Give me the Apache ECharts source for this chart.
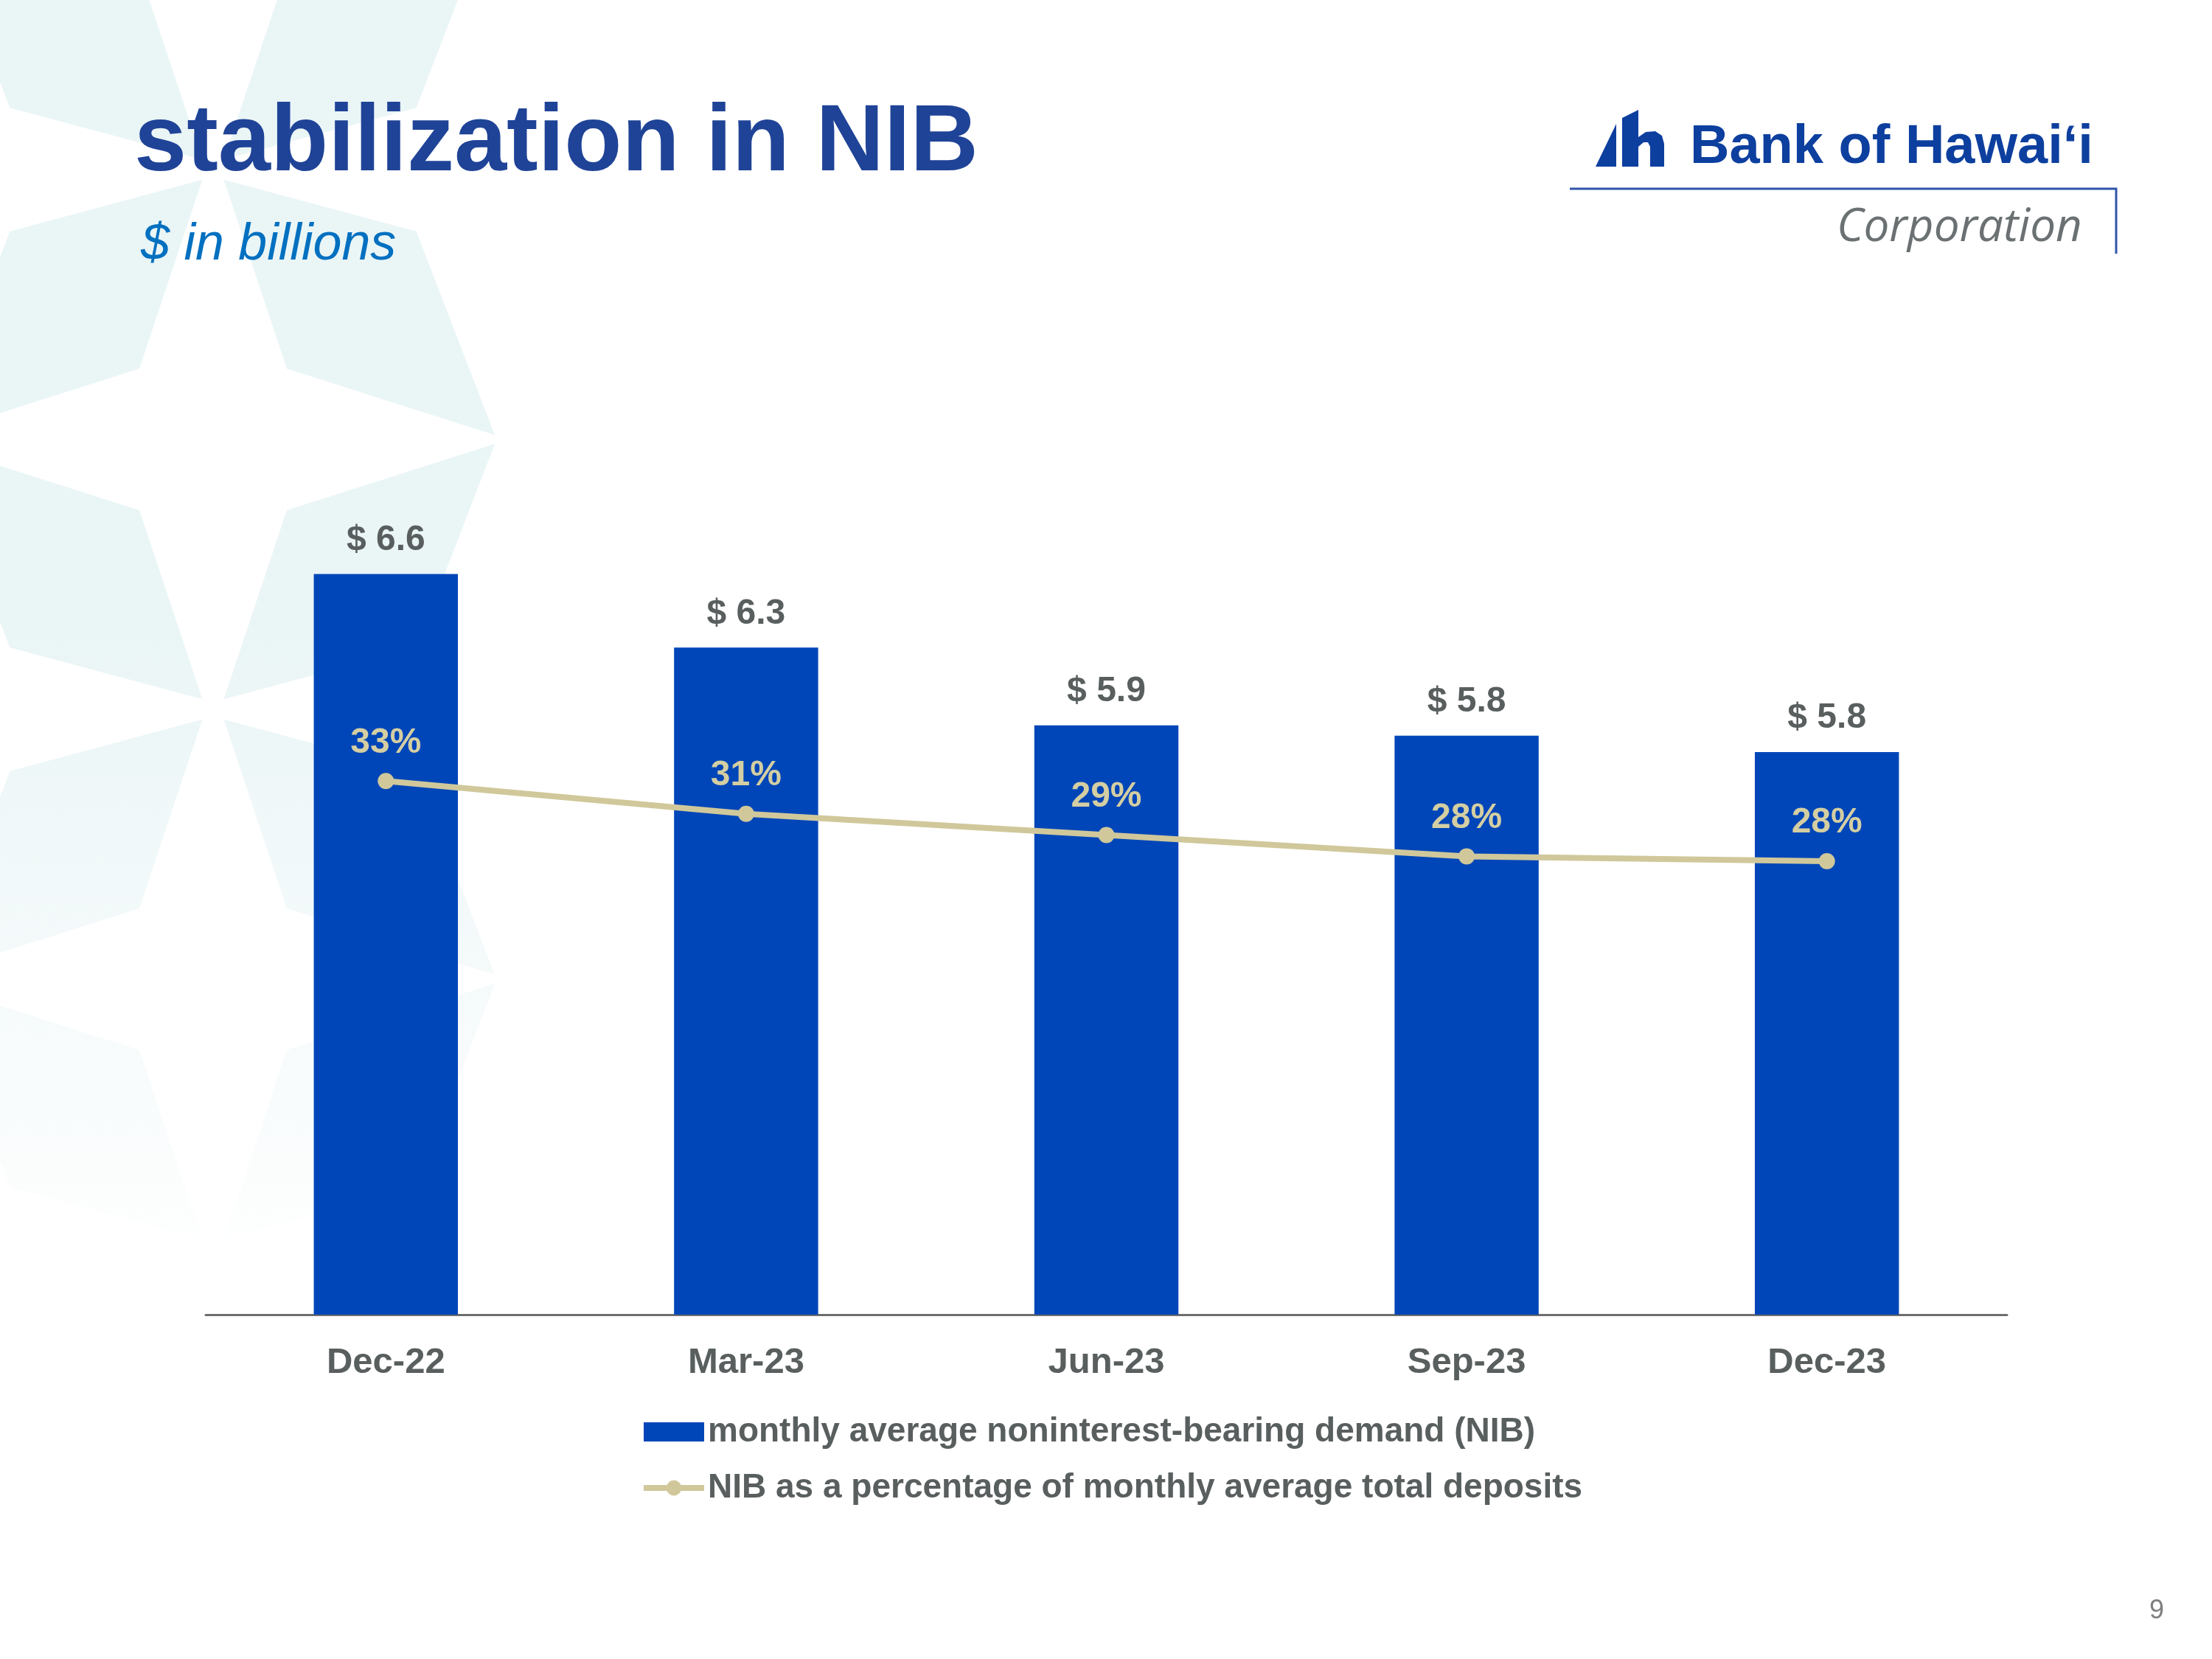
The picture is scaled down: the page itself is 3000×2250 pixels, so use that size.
<!DOCTYPE html>
<html><head><meta charset="utf-8">
<script src="https://cdn.jsdelivr.net/npm/echarts@6/dist/echarts.min.js"></script>
<style>html,body{margin:0;padding:0;background:#fff}#c{width:3000px;height:2250px}</style>
</head><body><div id="c"></div>
<script>
const categories = ['Dec-22', 'Mar-23', 'Jun-23', 'Sep-23', 'Dec-23'];
const nibBillions = [6.62, 6.26, 5.88, 5.83, 5.75];
const nibPctOfDeposits = [32.6, 30.6, 29.3, 28.0, 27.7];
const seriesNames = ['monthly average noninterest-bearing demand (NIB)', 'NIB as a percentage of monthly average total deposits'];
const titleText = 'stabilization in NIB';
const subtitleText = '$ in billions';

const FONT = '"Liberation Sans", Arial, Helvetica, sans-serif';
const GRAY = '#595E5E';
const BLUE = '#0046B8';
const TAN = '#D0C89B';

const chart = echarts.init(document.getElementById('c'), null, {renderer: 'canvas'});

const bgFill = new echarts.graphic.LinearGradient(0, 850, 0, 1750, [
  {offset: 0, color: '#EAF5F6'}, {offset: 1, color: '#FFFFFF'}], true);

function kite(cx, cy, angDeg) {
  const L = 525, d0 = 20, a = 258, w = 128;
  const t = angDeg * Math.PI / 180;
  const ux = Math.cos(t), uy = Math.sin(t), px = -uy, py = ux;
  const pt = (al, pe) => [cx + ux * al + px * pe, cy + uy * al + py * pe];
  return [pt(d0, 0), pt(a, w), pt(L, 0), pt(a, -w)];
}
const bgGraphics = [];
[[289, 230], [289, 962], [289, 1694]].forEach(c => {
  [43.3, -43.3, 180 - 43.3, 180 + 43.3].forEach(ang => {
    bgGraphics.push({type: 'polygon', silent: true, z: -10,
      shape: {points: kite(c[0], c[1], ang)}, style: {fill: bgFill}});
  });
});

const logoBlue = '#0D3F9F';
const graphics = bgGraphics.concat([
  {type: 'text', left: 182, top: 196 - 64, z: 5,
    style: {text: titleText, font: 'bold 128px ' + FONT, fill: '#1F4397'}},
  {type: 'text', left: 191, top: 333 - 35, z: 5,
    style: {text: subtitleText, font: 'italic 70px ' + FONT, fill: '#0070C0'}},
  {type: 'polygon', z: 5, shape: {points: [[2164, 226], [2192, 168], [2192, 226]]}, style: {fill: logoBlue}},
  {type: 'polygon', z: 5, shape: {points: [[2200, 160], [2222, 149], [2222, 186], [2232, 179], [2245, 178], [2254, 184], [2257, 195], [2257, 226], [2238, 226], [2238, 199], [2235, 193], [2229, 193], [2222, 199], [2222, 226], [2200, 226]]}, style: {fill: logoBlue}},
  {type: 'text', left: 2292, top: 201 - 37, z: 5,
    style: {text: 'Bank of Hawai\u2018i', font: 'bold 74px ' + FONT, fill: logoBlue}},
  {type: 'polyline', z: 5, shape: {points: [[2129, 256], [2870, 256], [2870, 344]]},
    style: {stroke: '#2F55A8', lineWidth: 3, fill: null}},
  {type: 'text', left: 2491, top: 309 - 31, z: 5,
    style: {text: 'Corporation', font: 'italic 62px "Open Sans", "Noto Sans", sans-serif', fill: '#6B7173'}},
  {type: 'text', left: 2915, top: 2167, z: 5,
    style: {text: '9', font: '36px ' + FONT, fill: '#7F7F7F', align: 'center', verticalAlign: 'middle'}}
]);

chart.setOption({
  backgroundColor: '#FFFFFF',
  animation: false,
  graphic: graphics,
  grid: {left: 279, right: 278, top: 673, bottom: 467, containLabel: false},
  legend: {
    orient: 'vertical', left: 864, top: 1914, itemGap: 30,
    itemWidth: 82, itemHeight: 26,
    textStyle: {fontFamily: FONT, fontWeight: 'bold', fontSize: 46, color: GRAY},
    data: [
      {name: seriesNames[0], icon: 'rect'},
      {name: seriesNames[1], lineStyle: {width: 8, color: TAN}, itemStyle: {color: TAN}}
    ]
  },
  xAxis: {
    type: 'category', data: categories,
    axisLine: {lineStyle: {color: '#6E6E6E', width: 3}},
    axisTick: {show: false},
    axisLabel: {fontFamily: FONT, fontWeight: 'bold', fontSize: 49, color: GRAY, margin: 41}
  },
  yAxis: [
    {type: 'value', min: 3, max: 7, show: false, splitLine: {show: false}},
    {type: 'value', min: 0, max: 50, show: false, splitLine: {show: false}}
  ],
  series: [
    {
      name: seriesNames[0], type: 'bar', data: nibBillions, yAxisIndex: 0,
      barWidth: '40%', itemStyle: {color: BLUE},
      label: {show: true, position: 'top', distance: 22,
        fontFamily: FONT, fontWeight: 'bold', fontSize: 48, color: GRAY,
        formatter: p => '$ ' + p.value.toFixed(1)}
    },
    {
      name: seriesNames[1], type: 'line', data: nibPctOfDeposits, yAxisIndex: 1,
      symbol: 'circle', symbolSize: 22,
      lineStyle: {color: TAN, width: 8}, itemStyle: {color: TAN},
      label: {show: true, position: 'top', distance: 17,
        fontFamily: FONT, fontWeight: 'bold', fontSize: 48, color: '#D4CEA2',
        formatter: p => Math.round(p.value) + '%'},
      z: 3
    }
  ]
});
</script></body></html>
